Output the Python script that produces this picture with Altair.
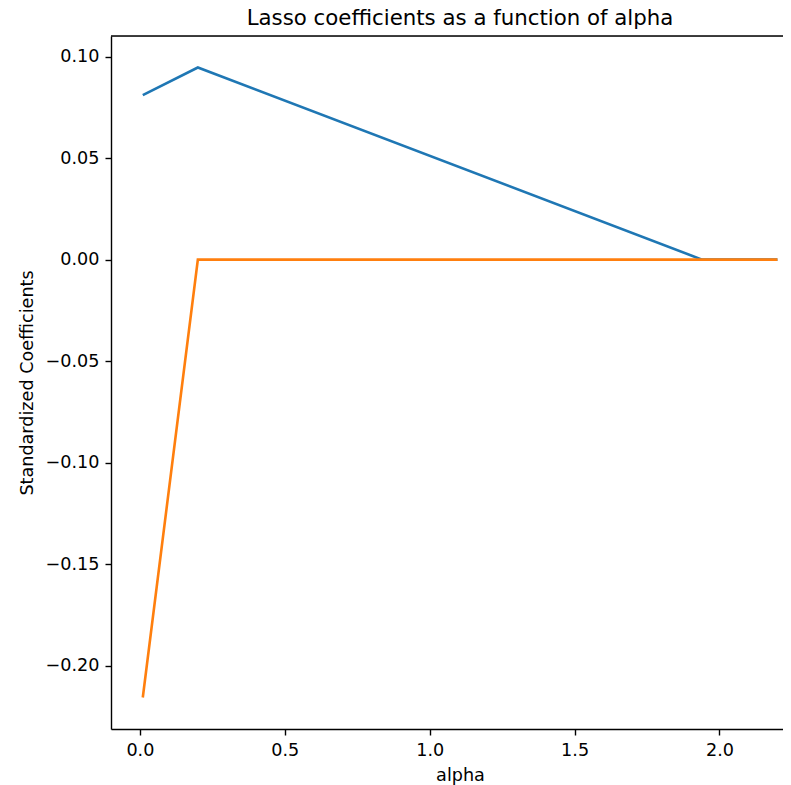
import altair as alt
import pandas as pd

# data
alphas = [0.01, 0.2, 1.94, 2.2]
coef_blue = [0.081, 0.0946, 0.0, 0.0]
coef_orange = [-0.2156, 0.0, 0.0, 0.0]

x_ticks = [0.0, 0.5, 1.0, 1.5, 2.0]
y_ticks = [-0.20, -0.15, -0.10, -0.05, 0.00, 0.05, 0.10]

df_blue = pd.DataFrame({"alpha": alphas, "coef": coef_blue})
df_orange = pd.DataFrame({"alpha": alphas, "coef": coef_orange})

W, H = 672, 693
FONT = "DejaVu Sans"
FS = 17.6

xscale = alt.Scale(domain=[-0.0997, 2.2192], nice=False, zero=False)
yscale = alt.Scale(domain=[-0.2311, 0.1101], nice=False, zero=False)

xaxis = alt.Axis(
    values=x_ticks, format=".1f", title="alpha", grid=False,
    tickSize=6, tickWidth=1.4, tickColor="black",
    domainColor="black", domainWidth=1.4,
    labelFont=FONT, labelFontSize=FS, labelColor="black",
    labelBaseline="alphabetic", labelPadding=20,
    titleFont=FONT, titleFontSize=FS, titleFontWeight="normal", titleColor="black",
    titleX=349, titleY=51, titleBaseline="alphabetic",
)
yaxis = alt.Axis(
    values=y_ticks, format=".2f", title="Standardized Coefficients", grid=False,
    tickSize=6, tickWidth=1.4, tickColor="black",
    domainColor="black", domainWidth=1.4,
    labelFont=FONT, labelFontSize=FS, labelColor="black", labelPadding=6,
    titleFont=FONT, titleFontSize=FS, titleFontWeight="normal", titleColor="black",
    titleX=-84, titleBaseline="middle",
)

blue = alt.Chart(df_blue).mark_line(color="#1f77b4", strokeWidth=2.6).encode(
    x=alt.X("alpha:Q", scale=xscale, axis=xaxis),
    y=alt.Y("coef:Q", scale=yscale, axis=yaxis),
)
orange = alt.Chart(df_orange).mark_line(color="#ff7f0e", strokeWidth=2.6).encode(
    x=alt.X("alpha:Q", scale=xscale),
    y=alt.Y("coef:Q", scale=yscale),
)
top_spine = alt.Chart(pd.DataFrame({"k": [0]})).mark_rule(
    color="black", strokeWidth=1.4
).encode(x=alt.value(0), x2=alt.value(W), y=alt.value(0))

chart = alt.layer(blue, orange, top_spine).properties(
    width=W, height=H,
    title=alt.TitleParams(
        "Lasso coefficients as a function of alpha",
        font=FONT, fontSize=21.3, fontWeight="normal", color="black",
        anchor="middle", frame="group", offset=6, dx=13,
    ),
    autosize=alt.AutoSizeParams(type="none"),
    padding={"left": 103, "top": 28, "right": 0, "bottom": 56},
).configure_view(stroke=None).configure(background="white")

chart.save("out.html", embed_options={"renderer": "svg", "actions": False})
